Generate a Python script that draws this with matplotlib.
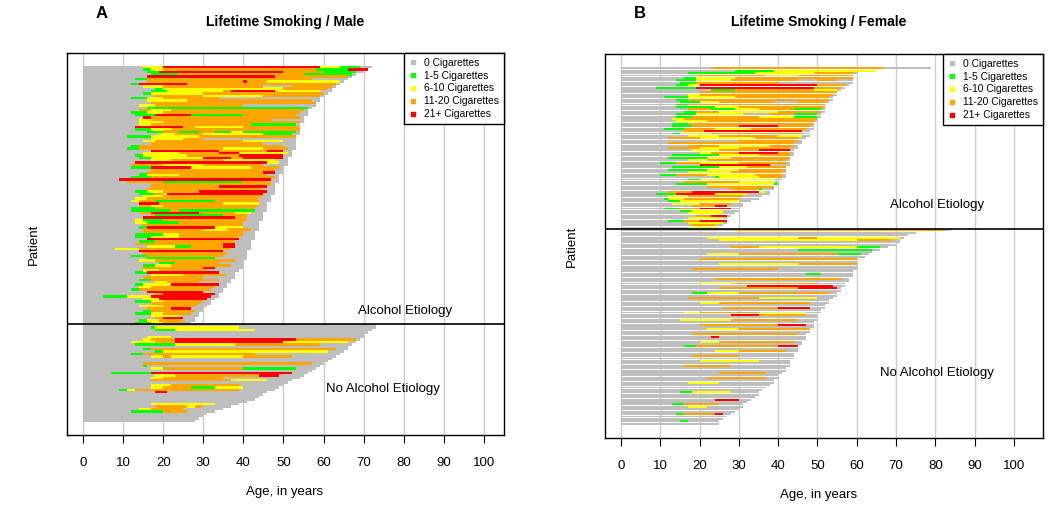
import matplotlib
matplotlib.use('Agg')
import matplotlib.pyplot as plt
from matplotlib.lines import Line2D

plt.rcParams['font.family'] = ['Liberation Sans', 'DejaVu Sans']

# ---------------- data ----------------
CATEGORIES = ['0 Cigarettes', '1-5 Cigarettes', '6-10 Cigarettes', '11-20 Cigarettes', '21+ Cigarettes']
CODES = ['K', 'G', 'Y', 'O', 'R']
COLORS = {'K': '#BEBEBE', 'G': '#00FF00', 'Y': '#FFFF00', 'O': '#FFA500', 'R': '#FF0000'}
X_TICKS = list(range(0, 101, 10))

# Each row: "age_at_end: start CODE change CODE change ... stop"
MALE_ALCOHOL = [
    "72: 15 Y 20 R 59 Y 64 G 69", "71: 15 G 17 Y 20 O 58 G 66 R 71", "70: 16 G 19 R 50 O 60 G 68",
    "68: 17 G 24 O 55 G 67", "67: 16 R 48 O 66", "66: 13 G 16 O 57", "65: 16 O 40 R 41 O 46 Y 64",
    "64: 12 G 14 R 26 O 63", "63: 15 Y 20 O 45 K 52 O 62", "62: 18 G 20 Y 50 O 61",
    "62: 17 G 21 Y 35 O 37 R 48 Y 59", "61: 15 G 17 Y 30 O 60", "60: 18 O 30 Y 45 O 59",
    "59: 12 G 16 Y 20 O 34", "59: 16 Y 26 O 57", "58: 17 O 58", "58: 14 Y 18 O 40", "57: 16 G 56",
    "56: 14 O 17 Y 22 O 55", "56: 12 G 16 Y 20 O 54", "56: 13 G 18 R 27 G 40 O 53", "55: 15 R 17 O 54",
    "55: 14 Y 17 O 47", "55: 14 Y 20 O 54", "54: 14 Y 17 O 42 G 53", "54: 13 R 25 O 28 Y 40 O 54",
    "54: 13 G 17 Y 22 O 54", "54: 16 G 20 O 24 G 29 O 33 G 37 Y 40 G 53", "54: 19 Y 23 O 30 Y 45 G 52",
    "53: 11 G 17 Y 29 O 53", "53: 17 Y 25 O 30", "53: 15 Y 18 O 40 Y 50", "53: 17 O 45",
    "53: 12 G 14 O 50", "53: 11 G 14 O 35 Y 45 O 51", "52: 17 R 34 O 46 R 50",
    "52: 15 Y 24 O 34 R 39 Y 51", "52: 13 G 15 Y 26 O 39 R 50", "51: 14 G 17 Y 30 R 37 O 40 R 50",
    "51: 17 Y 22 O 35 Y 48", "51: 13 R 46 Y 49", "51: 12 O 20 Y 30 O 45", "50: 12 G 17 R 27 Y 42 O 49",
    "50: 17 O 48", "50: 16 O 45 R 48", "49: 14 G 16 Y 24 O 46", "49: 12 G 17 O 48", "49: 9 R 47",
    "49: 11 O 20 G 40 O 47", "48: 17 O 47", "48: 17 O 34 R 46", "48: 16 O 45",
    "48: 13 G 16 Y 20 O 29 R 46", "48: 14 G 18 O 20 Y 21 R 45", "47: 15 Y 20 O 45", "47: 13 Y 16 O 44",
    "47: 12 Y 14 O 18 G 33 O 44", "46: 14 R 19 O 35 Y 44", "46: 14 O 17 Y 20 O 44", "46: 12 G 18 O 43",
    "46: 12 G 22 O 24 G 43", "45: 14 O 17 R 29 O 38 Y 42", "45: 17 O 18 G 35 O 41", "45: 15 R 38 O 41",
    "45: 13 Y 15 G 20 O 41", "44: 13 Y 16 G 24 O 40", "44: 15 O 40", "44: 14 G 16 R 33 Y 40",
    "44: 15 O 30 Y 36 O 42", "43: 15 O 40", "43: 13 G 20 Y 24 O 40", "43: 13 G 17 Y 24 O 39",
    "43: 16 R 39", "42: 14 G 18 O 38", "42: 13 O 35 R 38", "42: 16 Y 23 G 27 O 35 R 38",
    "42: 8 Y 14 O 37", "41: 14 R 35", "41: 15 O 36", "41: 12 G 16 O 35", "41: 16 G 33",
    "40: 14 Y 18 O 38", "40: 19 G 23 O 34", "40: 15 G 18 Y 22 O 37", "40: 15 O 30 R 33",
    "39: 15 Y 19 O 31", "38: 13 G 16 R 34", "38: 17 Y 25 O 36", "38: 15 O 30", "37: 14 G 17 O 34",
    "37: 18 Y 21 O 29", "36: 13 G 15 Y 22 R 34", "36: 14 Y 17 O 33", "35: 12 G 14 O 32",
    "35: 16 R 30", "34: 18 O 20 R 33", "34: 5 G 11 Y 17 R 32", "33: 15 Y 19 R 31",
    "32: 13 G 17 Y 20 O 30", "32: 17 O 29", "31: 14 Y 20 O 28", "30: 16 O 22 R 27",
    "30: 15 G 17 O 28", "29: 13 G 17 Y 20 O 27", "29: 17 Y 24", "28: 18 O 20 R 25",
    "28: 14 G 16 Y 19 O 25", "27: 13 G 17 Y 20 O 26",
]
MALE_NO_ALCOHOL = [
    "73:", "73: 17 G 18 Y 39", "72: 18 G 23 Y 43", "71:", "70:", "70: 16 Y 22",
    "69: 15 Y 17 O 23 R 53 O 68", "68: 12 Y 18 O 23 R 50 Y 66", "67: 13 G 23 Y 38 O 59", "66:",
    "66: 15 G 17 O 63", "65: 18 G 20 Y 61", "64: 12 G 15 O 43", "63: 17 Y 20 O 22 Y 40 O 52",
    "62:", "61:", "60: 15 O 57", "59: 15 G 16", "58: 17 Y 20 O 40 G 53", "57:", "56: 7 G 17 R 52",
    "55: 18 Y 23 O 44 R 49", "54: 17 Y 20 O 35", "52: 17 O 37 Y 46", "51:", "50: 17 Y 22 O 39",
    "49: 17 Y 20 O 27 G 33 Y 40", "48: 9 G 11 Y 13 O 39", "46: 18 R 21", "45:", "44:", "43:",
    "41:", "39: 17 Y 33", "37: 18 O 26 Y 28 O 30", "35: 14 Y 17 O 25", "33: 12 G 20 O 26",
    "31:", "30:", "29:", "28:",
]
FEMALE_ALCOHOL = [
    "79: 23 O 67", "65: 29 G 39 Y 65", "60: 17 G 34 Y 49 O 59", "59: 19 O 37 Y 45 O 59",
    "59: 16 G 19 Y 29 O 59", "59: 14 G 19 Y 28 O 45 K 50 O 55", "59: 15 G 19 O 40",
    "58: 14 G 17 Y 20 R 50 O 57", "57: 9 G 19 R 49 O 56", "56: 23 G 29 O 49 Y 55", "55: 20 O 55",
    "55: 17 Y 20 O 54", "54: 11 G 17 Y 29 O 53", "54: 14 G 17 O 53", "53: 15 G 20 Y 25 O 39 K 45 O 52",
    "52: 14 G 17 O 52", "52: 14 G 24 Y 30 O 52", "52: 17 O 23 G 29 Y 35 O 44 G 51",
    "52: 16 G 19 O 25 Y 40 O 51", "51: 14 G 19 Y 31 K 38 O 44 G 50", "51: 14 G 18 O 35 Y 44 G 50",
    "50: 13 Y 16 O 50", "50: 14 Y 22 O 49", "49: 13 G 17 O 49", "49: 13 G 18 O 30 R 40 O 48",
    "49: 11 G 16 O 24 Y 33 O 47", "48: 16 O 21 R 46", "48: 13 G 15 Y 23 O 46", "48: 17 Y 25 O 40 Y 46",
    "47: 12 O 20 Y 34 O 45", "46: 18 K 30 O 45", "46: 12 O 44", "45: 17 O 25 Y 38 O 44",
    "45: 12 O 20 Y 30 O 43", "44: 18 Y 25 O 35 R 43", "44: 20 Y 23 O 30 R 40 O 43",
    "44: 13 G 25 Y 35 O 43", "43: 12 G 22 Y 28 O 43", "43: 17 Y 22 O 42", "43: 10 G 14 O 20 Y 30 O 42",
    "43: 20 R 38", "42: 13 G 25 Y 32 O 42", "42: 12 G 22 Y 30 O 42", "42: 17 Y 28 O 41",
    "42: 10 G 14 O 22 Y 34 O 41", "42: 24 G 25 Y 35 O 41", "41: 17 G 20 Y 39", "40: 16 O 30 Y 39",
    "40: 14 G 22 Y 39 G 40", "39: 22 O 39", "39: 28 O 35 G 36", "38: 12 O 18 R 35 Y 37",
    "38: 9 G 14 R 24 Y 32", "36: 12 Y 17 O 31", "35: 11 G 12 Y 16 O 30", "33: 12 G 15 Y 30",
    "31: 13 Y 20 O 28", "31: 18 O 24 R 27", "30: 11 G 15 O 20 R 28", "30: 15 G 18 Y 26",
    "29: 17 Y 26", "28: 19 O 23 R 27", "27: 17 Y 26", "27: 12 G 16 O 20 R 27", "27: 17 Y 26",
    "26: 18 O 24", "25: 17 Y 25",
]
FEMALE_NO_ALCOHOL = [
    "84: 29 O 82", "75:", "73:", "72: 22 Y 45 O 50 Y 71", "71: 25 Y 60 O 69", "71:", "70:",
    "68: 28 O 35 Y 60 G 66", "66: 45 G 64", "64:", "63: 22 Y 30 O 55 G 61", "62:", "60: 20 O 60",
    "60:", "60: 25 Y 45 O 60", "60:", "60: 18 O 40", "59:", "59: 47 G 51", "59:", "58: 24 O 56",
    "58:", "57: 20 Y 28 O 50", "57: 32 R 54", "56: 25 O 45 R 55", "56:", "55: 18 G 22 Y 30 O 53",
    "55:", "54: 17 O 35 Y 50", "53:", "53: 20 Y 25 O 48", "52:", "52: 26 O 40 R 48", "51:",
    "51: 16 Y 20 O 35 Y 47", "50: 28 R 35 O 47", "50:", "50: 15 Y 28 O 45", "49:",
    "49: 20 O 40 R 47", "49:", "48: 22 Y 30 O 48", "48:", "47: 18 O 45", "47: 23 R 25", "47:",
    "46: 20 Y 25 O 44", "46:", "45: 16 G 19 O 40 R 45", "45:", "45: 24 Y 30 O 42", "44:",
    "44: 18 O 30", "44:", "43: 20 Y 35", "43:", "43: 16 O 28", "42:", "42:", "41: 25 O 37", "40:",
    "40: 22 O 37", "39:", "39: 17 Y 25", "38:", "37:", "36:", "35: 15 G 18 Y 28", "35:", "34:",
    "33: 24 R 30", "32:", "31: 13 G 16 O 25", "31: 17 Y 22", "30:", "29:", "28: 14 G 16 O 24 R 26",
    "27:", "26:", "25: 15 G 17", "25:",
]


def parse(row):
    end, rest = row.split(':')
    toks = rest.split()
    segs = []
    for i in range(0, len(toks) - 1, 2):
        segs.append((float(toks[i]), float(toks[i + 2]), toks[i + 1]))
    return float(end), segs


W, H = 1050, 505
fig = plt.figure(figsize=(W / 100, H / 100), dpi=100)


def panel(frame, xlim, rows_alc, rows_non, title, title_x, letter, letter_x, bar_h, txt_alc, txt_non):
    x0, y0, x1, y1 = frame
    ax = fig.add_axes([x0 / W, 1 - y1 / H, (x1 - x0) / W, (y1 - y0) / H])
    rows = [parse(r) for r in rows_alc + rows_non]
    n = len(rows)
    pad = 0.04 * (n - 1)
    ax.set_xlim(*xlim)
    ax.set_ylim(n - 1 + pad, -pad)
    ax.set_xticks(X_TICKS)
    ax.set_yticks([])
    ax.grid(axis='x', color='#cccccc', lw=1.0, zorder=0)
    ax.set_axisbelow(True)
    # gray lifetime bars
    ys = list(range(n))
    ax.barh(ys, [r[0] for r in rows], left=0, height=bar_h, color=COLORS['K'], lw=0, zorder=2)
    for code in CODES:
        yy, ww, ll = [], [], []
        for i, (end, segs) in enumerate(rows):
            for s, e, c in segs:
                if c == code:
                    yy.append(i); ll.append(s); ww.append(e - s)
        if yy:
            ax.barh(yy, ww, left=ll, height=bar_h, color=COLORS[code], lw=0, zorder=3)
    ax.axhline(len(rows_alc) - 0.5, color='black', lw=1.2, zorder=4)
    ax.text(txt_alc[0], txt_alc[1], 'Alcohol Etiology', ha='center', va='center', fontsize=9.5, zorder=5)
    ax.text(txt_non[0], txt_non[1], 'No Alcohol Etiology', ha='center', va='center', fontsize=9.5, zorder=5)
    for sp in ax.spines.values():
        sp.set_color('black'); sp.set_linewidth(1.0)
    ax.tick_params(axis='x', direction='out', length=6, width=0.8, labelsize=9.5, pad=10)
    handles = [Line2D([], [], marker='s', ls='none', color=COLORS[c], markersize=3.5) for c in CODES]
    leg = ax.legend(handles, CATEGORIES, loc='upper right', borderaxespad=0, fancybox=False,
                    edgecolor='black', fontsize=7.4, handlelength=0.8, handletextpad=0.7,
                    labelspacing=0.28, borderpad=0.45, framealpha=1)
    leg.get_frame().set_linewidth(1.0)
    leg.set_zorder(6)
    fig.text(title_x / W, 1 - 22 / H, title, ha='center', va='center', fontsize=10, fontweight='bold')
    fig.text(letter_x / W, 1 - 13 / H, letter, ha='center', va='center', fontsize=12, fontweight='bold')
    fig.text(title_x / W, 1 - (y1 + 57) / H, 'Age, in years', ha='center', va='center', fontsize=9.5)
    fig.text((x0 - 33) / W, 1 - ((y0 + y1) / 2) / H, 'Patient', ha='center', va='center',
             rotation=90, fontsize=9.5)
    return ax


panel((67, 53, 504, 435), (-4, 105), MALE_ALCOHOL, MALE_NO_ALCOHOL, 'Lifetime Smoking / Male', 285,
      'A', 102, 1.05, (80.3, 102), (74.8, 134.5))
panel((605, 54, 1043, 438), (-4.07, 107.4), FEMALE_ALCOHOL, FEMALE_NO_ALCOHOL,
      'Lifetime Smoking / Female', 819, 'B', 640, 0.8, (80.4, 56.5), (80.4, 126))

fig.savefig('out.png', dpi=100)
